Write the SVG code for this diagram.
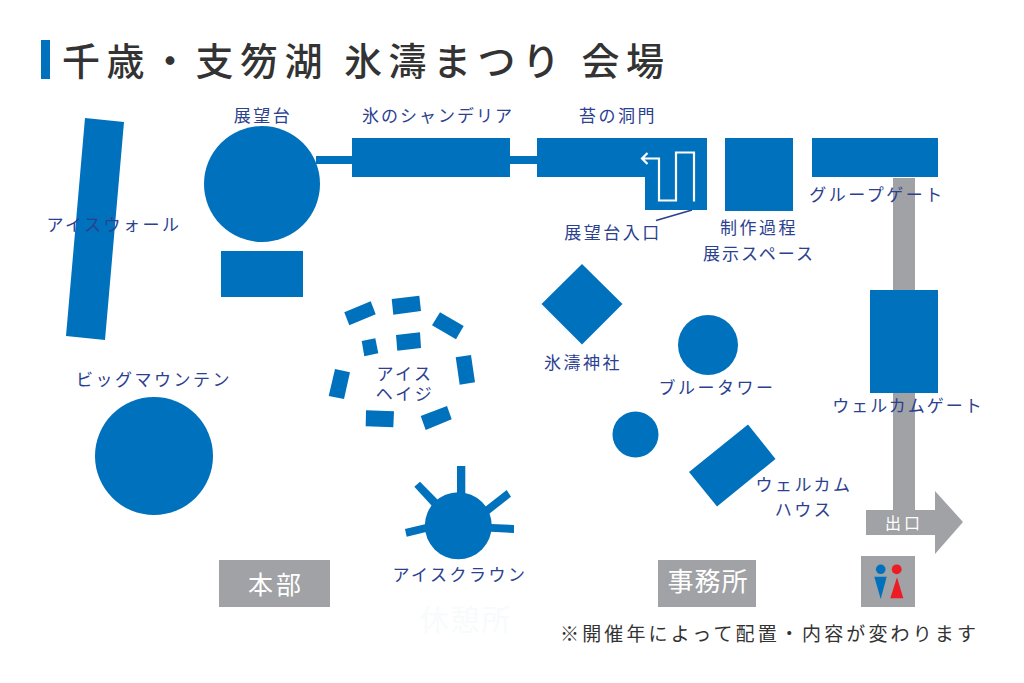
<svg xmlns="http://www.w3.org/2000/svg" width="1024" height="683" viewBox="0 0 1024 683">
<style>
.b{fill:#0071bc}
.g{fill:#a0a2a5}
text{font-family:"Noto Sans CJK JP","Noto Sans",sans-serif}
.l{fill:#2b4190;font-size:17px;text-anchor:middle;letter-spacing:2.500px}
.n{letter-spacing:2px}
.w{fill:#fff;text-anchor:middle}
</style>
<rect width="1024" height="683" fill="#fff"/>
<g id="title"><rect class="b" x="41" y="40" width="9" height="39"/>
<text x="62" y="75" font-size="38" font-weight="500" fill="#333" textLength="602">千歳・支笏湖 氷濤まつり 会場</text></g>
<g id="connectors">
<rect class="g" x="893" y="178" width="22" height="332"/>
<rect class="b" x="316" y="156" width="36" height="8"/>
<rect class="b" x="510" y="156" width="27" height="8"/>
<path d="M692 210L656 220.500" fill="none" stroke="#2b4190" stroke-width="1.800"/>
</g>
<g id="ice-wall"><polygon class="b" points="85,118 124,122 105,340 66,336"/><text class="l" x="114" y="231">アイスウォール</text></g>
<g id="observatory"><circle class="b" cx="262" cy="184" r="58"/><rect class="b" x="221" y="251" width="82" height="46"/><text class="l" x="263" y="122">展望台</text></g>
<g id="chandelier"><rect class="b" x="352" y="138" width="158" height="39"/><text class="l n" x="438" y="122">氷のシャンデリア</text></g>
<g id="moss-gate"><polygon class="b" points="537,138 707,138 707,210 645,210 645,177 537,177"/>
<path d="M694 201.500V152.500H676V200.500H659V158.500H643M647.500 153L642 158.500L647.500 164" fill="none" stroke="#fff" stroke-width="2.200"/>
<text class="l" x="618" y="122">苔の洞門</text><text class="l" x="613" y="239">展望台入口</text></g>
<g id="exhibit"><rect class="b" x="725" y="138" width="68" height="73"/><text class="l" x="759" y="234">制作過程</text><text class="l n" x="759" y="260">展示スペース</text></g>
<g id="group-gate"><rect class="b" x="812" y="138" width="126" height="39"/><text class="l" x="877" y="201">グループゲート</text></g>
<g id="welcome-gate"><rect class="b" x="870" y="290" width="68" height="103"/><text class="l n" x="908" y="412">ウェルカムゲート</text></g>
<g id="big-mountain"><circle class="b" cx="154" cy="456" r="59"/><text class="l" x="154" y="386">ビッグマウンテン</text></g>
<g id="ice-haze">
<polygon class="b" points="344.300,312.300 370.700,301.300 375.700,314.300 349.300,325.300"/>
<polygon class="b" points="391.700,299 419.300,295.700 421,311 393.300,314.700"/>
<polygon class="b" points="440,312.300 463.700,326 456,339.300 432,325.300"/>
<polygon class="b" points="361.700,341 375.300,338.300 378.300,353.300 364.300,356.300"/>
<polygon class="b" points="396,335 420,332.300 421,348 397.300,350.700"/>
<polygon class="b" points="455.700,357.300 471,355 475,382.300 459.700,384.700"/>
<polygon class="b" points="335,369 350,372.300 344,399 328.700,396"/>
<polygon class="b" points="366,410.300 394,411.300 393.300,427.300 365.700,426.300"/>
<polygon class="b" points="420.700,416 447,406 451.700,419.300 425.700,430"/>
<text class="l"><tspan x="405" y="380">アイス</tspan><tspan x="405" y="400">ヘイジ</tspan></text></g>
<g id="shrine"><polygon class="b" points="582,264 622.500,304 582,344.500 541.500,304"/><text class="l" x="583" y="369">氷濤神社</text></g>
<g id="blue-tower"><circle class="b" cx="708" cy="345" r="30"/><text class="l" x="717" y="394">ブルータワー</text></g>
<g id="small-circle"><circle class="b" cx="635.500" cy="434.500" r="23"/></g>
<g id="welcome-house"><polygon class="b" points="748,424.500 775.500,459 717,506.500 689,472"/><text class="l" x="804" y="491">ウェルカム</text><text class="l" x="804" y="516">ハウス</text></g>
<g id="ice-crown"><circle class="b" cx="458.300" cy="525.700" r="33.500"/>
<polygon class="b" points="457,466 465.300,466 465.300,497 457,497"/>
<polygon class="b" points="414.300,486.700 420,481.700 438,500 432,506"/>
<polygon class="b" points="506.700,490 511,496.700 489,514 485,507"/>
<polygon class="b" points="491,524 514,525 514,533 491,531.700"/>
<polygon class="b" points="405,529 426,524 427,531.700 406.700,536.700"/>
<text class="l" x="460" y="581">アイスクラウン</text></g>
<g id="rest"><text x="466" y="631" font-size="29" fill="#f7fbfc" text-anchor="middle" letter-spacing="2">休憩所</text></g>
<g id="hq"><rect class="g" x="219" y="560" width="111" height="47"/><text class="w" x="276" y="594" font-size="25" letter-spacing="3">本部</text></g>
<g id="office"><rect class="g" x="658" y="560" width="98" height="47"/><text class="w" x="708" y="591" font-size="26" letter-spacing="1">事務所</text></g>
<g id="exit"><polygon class="g" points="866,510 935,510 935,491 963,522 935,554 935,535 866,535"/><text class="w" x="904" y="529" font-size="16" letter-spacing="3">出口</text></g>
<g id="toilet"><rect class="g" x="861" y="556" width="54" height="51"/>
<circle cx="880.700" cy="569.300" r="4.800" fill="#0071bc"/><polygon points="874.300,576.700 886.700,576.700 880.700,599" fill="#0071bc"/>
<circle cx="896.700" cy="569.300" r="4.900" fill="#ed1c24"/><polygon points="897,577.300 890.300,598.300 903.300,598.300" fill="#ed1c24"/></g>
<g id="note"><text x="560" y="641" font-size="19" fill="#333" textLength="416">※開催年によって配置・内容が変わります</text></g>
</svg>
